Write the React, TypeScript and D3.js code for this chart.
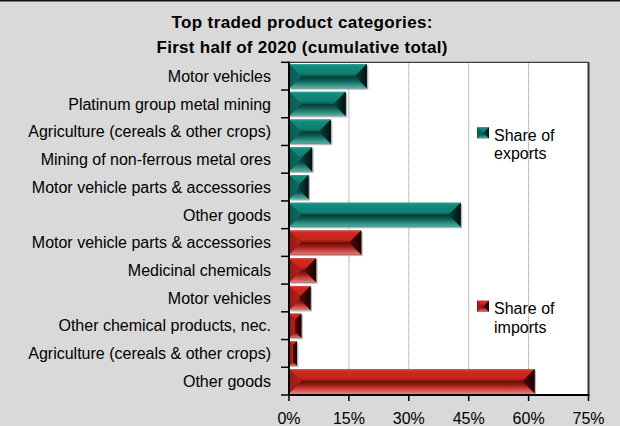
import React from "react";
import * as d3 from "d3";

const titleLines = ["Top traded product categories:", "First half of 2020 (cumulative total)"];
const exportCategories = [
  "Motor vehicles",
  "Platinum group metal mining",
  "Agriculture (cereals & other crops)",
  "Mining of non-ferrous metal ores",
  "Motor vehicle parts & accessories",
  "Other goods",
];
const exportValues = [19.5, 14.2, 10.5, 5.8, 4.9, 43.0];
const importCategories = [
  "Motor vehicle parts & accessories",
  "Medicinal chemicals",
  "Motor vehicles",
  "Other chemical products, nec.",
  "Agriculture (cereals & other crops)",
  "Other goods",
];
const importValues = [18.1, 6.8, 5.4, 3.1, 2.0, 61.5];
const xTicks = [0, 15, 30, 45, 60, 75];
const legendLabels = [["Share of", "exports"], ["Share of", "imports"]];

const W = 620;
const H = 426;
const plot = { left: 289, right: 588.5, top: 62.3, bottom: 395 };
const FONT = "'Liberation Sans', Arial, Helvetica, sans-serif";

type Row = { key: string; label: string; value: number; series: "exp" | "imp" };
const rows: Row[] = [
  ...exportCategories.map((c, i) => ({ key: "e" + i, label: c, value: exportValues[i], series: "exp" as const })),
  ...importCategories.map((c, i) => ({ key: "i" + i, label: c, value: importValues[i], series: "imp" as const })),
];

function Bevel({ x0, x1, y0, y1, s, shadow = true }: { x0: number; x1: number; y0: number; y1: number; s: string; shadow?: boolean }) {
  const w = x1 - x0;
  const h = y1 - y0;
  const b = Math.min(h / 2, w / 2);
  const pts = (a: number[][]) => a.map((p) => p.join(",")).join(" ");
  return (
    <g>
      {shadow && <rect x={x0 + 1.5} y={y0 + 1.5} width={w} height={h} fill="#8c8c8c" opacity={0.6} filter="url(#blur)" />}
      <rect x={x0} y={y0} width={w} height={h} fill={`url(#${s}-mid)`} />
      <polygon points={pts([[x0, y0], [x1, y0], [x1 - b, y0 + b], [x0 + b, y0 + b]])} fill={`url(#${s}-top)`} />
      <polygon points={pts([[x0, y1], [x1, y1], [x1 - b, y1 - b], [x0 + b, y1 - b]])} fill={`url(#${s}-bot)`} />
      <polygon points={pts([[x0, y0], [x0 + b, y0 + b], [x0 + b, y1 - b], [x0, y1]])} fill={`url(#${s}-left)`} />
      <polygon points={pts([[x1, y0], [x1 - b, y0 + b], [x1 - b, y1 - b], [x1, y1]])} fill={`url(#${s}-right)`} />
    </g>
  );
}

const palettes: Record<string, { top: string[]; bot: string[]; left: string[]; right: string[]; mid: string }> = {
  exp: {
    top: ["#35a697", "#138b7c", "#0e8072", "#0a5c52"],
    bot: ["#06372f", "#0b5e54", "#52b3a6"],
    left: ["#0a5a51", "#0c6c61"],
    right: ["#0b463e", "#021210"],
    mid: "#0a5047",
  },
  imp: {
    top: ["#e2574d", "#d32a20", "#c6241b", "#8e1410"],
    bot: ["#5e0b08", "#a01d17", "#ea7672"],
    left: ["#961a15", "#b3211a"],
    right: ["#560a07", "#180202"],
    mid: "#7a100c",
  },
};

function Defs() {
  return (
    <defs>
      <filter id="blur" x="-10%" y="-10%" width="120%" height="120%">
        <feGaussianBlur stdDeviation="0.6" />
      </filter>
      {Object.entries(palettes).map(([k, p]) => (
        <React.Fragment key={k}>
          <linearGradient id={`${k}-top`} x1="0" y1="0" x2="0" y2="1">
            <stop offset="0" stopColor={p.top[0]} />
            <stop offset="0.15" stopColor={p.top[1]} />
            <stop offset="0.75" stopColor={p.top[2]} />
            <stop offset="1" stopColor={p.top[3]} />
          </linearGradient>
          <linearGradient id={`${k}-bot`} x1="0" y1="0" x2="0" y2="1">
            <stop offset="0" stopColor={p.bot[0]} />
            <stop offset="0.35" stopColor={p.bot[1]} />
            <stop offset="1" stopColor={p.bot[2]} />
          </linearGradient>
          <linearGradient id={`${k}-left`} x1="0" y1="0" x2="1" y2="0">
            <stop offset="0" stopColor={p.left[0]} />
            <stop offset="1" stopColor={p.left[1]} />
          </linearGradient>
          <linearGradient id={`${k}-right`} x1="0" y1="0" x2="1" y2="0">
            <stop offset="0" stopColor={p.right[0]} />
            <stop offset="1" stopColor={p.right[1]} />
          </linearGradient>
          <linearGradient id={`${k}-mid`} x1="0" y1="0" x2="0" y2="1">
            <stop offset="0" stopColor={p.mid} />
            <stop offset="1" stopColor={p.mid} />
          </linearGradient>
        </React.Fragment>
      ))}
    </defs>
  );
}

export default function App() {
  const x = d3.scaleLinear().domain([0, 75]).range([plot.left, plot.right]);
  const y = d3
    .scaleBand<string>()
    .domain(rows.map((r) => r.key))
    .range([plot.top, plot.bottom])
    .paddingInner(0.13)
    .paddingOuter(0.065);
  const step = y.step();
  const bandStart = (k: string) => (y(k) as number) - y.paddingInner() * step / 2;
  const boundaries = rows.map((r) => bandStart(r.key)).concat([plot.bottom]);

  return (
    <svg
      width={W}
      height={H}
      style={{ position: "absolute", left: 0, top: 0, display: "block" }}
      fontFamily={FONT}
    >
      <Defs />
      <rect x={0} y={0} width={W} height={H} fill="#d9d9d9" />
      <rect x={0} y={0} width={W} height={1.5} fill="#111" />

      {/* title */}
      <text x={302} y={28.3} textAnchor="middle" fontSize={17} fontWeight="bold" textLength={261} lengthAdjust="spacing">
        {titleLines[0]}
      </text>
      <text x={302} y={52.7} textAnchor="middle" fontSize={17} fontWeight="bold" textLength={291} lengthAdjust="spacing">
        {titleLines[1]}
      </text>

      {/* plot area */}
      <rect x={plot.left} y={plot.top} width={plot.right - plot.left} height={plot.bottom - plot.top} fill="#fff" />

      {/* gridlines */}
      {xTicks.slice(1, -1).map((t) => (
        <line key={t} x1={x(t)} x2={x(t)} y1={plot.top} y2={plot.bottom} stroke="#7a7a7a" strokeWidth={1} strokeDasharray="1,1" />
      ))}

      {/* bars */}
      {rows.map((r) => {
        const y0 = y(r.key) as number;
        return <Bevel key={r.key} x0={x(0)} x1={x(r.value)} y0={y0} y1={y0 + y.bandwidth()} s={r.series} />;
      })}

      {/* frame */}
      <line x1={plot.left} x2={plot.right} y1={plot.top} y2={plot.top} stroke="#111" strokeWidth={1} />
      <line x1={plot.right} x2={plot.right} y1={plot.top} y2={plot.bottom} stroke="#333" strokeWidth={2} />
      <line x1={plot.left} x2={plot.left} y1={plot.top - 0.5} y2={plot.bottom + 1} stroke="#000" strokeWidth={2} />
      <line x1={plot.left - 1} x2={plot.right + 1} y1={plot.bottom} y2={plot.bottom} stroke="#000" strokeWidth={2} />

      {/* y ticks */}
      {boundaries.map((b, i) => (
        <line key={i} x1={plot.left - 8} x2={plot.left} y1={b} y2={b} stroke="#000" strokeWidth={1.5} />
      ))}

      {/* category labels */}
      {rows.map((r) => (
        <text
          key={r.key}
          x={271}
          y={bandStart(r.key) + step / 2}
          dy="0.36em"
          textAnchor="end"
          fontSize={16}
          fill="#000"
        >
          {r.label}
        </text>
      ))}

      {/* x ticks */}
      {xTicks.map((t) => (
        <g key={t}>
          <line x1={x(t)} x2={x(t)} y1={plot.bottom} y2={plot.bottom + 6} stroke="#000" strokeWidth={1.5} />
          <text x={x(t)} y={424} textAnchor="middle" fontSize={16} fill="#000">
            {t + "%"}
          </text>
        </g>
      ))}

      {/* legend */}
      {[
        { s: "exp", y0: 127.3, base: 140.7 },
        { s: "imp", y0: 300.7, base: 314 },
      ].map((l, i) => (
        <g key={l.s}>
          <Bevel x0={477} x1={489} y0={l.y0} y1={l.y0 + 11} s={l.s} shadow={false} />
          <text x={494} y={l.base} fontSize={16} fill="#000">
            {legendLabels[i][0]}
          </text>
          <text x={494} y={l.base + 18.7} fontSize={16} fill="#000">
            {legendLabels[i][1]}
          </text>
        </g>
      ))}
    </svg>
  );
}
